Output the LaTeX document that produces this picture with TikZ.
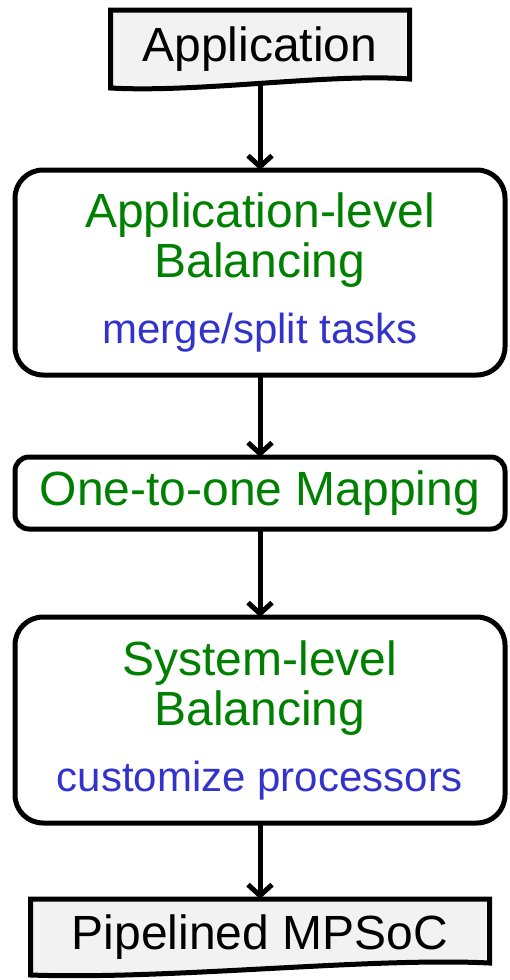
\documentclass[tikz,border=0pt]{standalone}
\usepackage{fontspec}
\setmainfont{Liberation Sans}
\usetikzlibrary{arrows.meta, positioning, backgrounds}

\definecolor{stepgreen}{RGB}{0,128,0}
\definecolor{noteblue}{RGB}{51,51,204}
\definecolor{docgray}{RGB}{242,242,242}

\begin{document}
\begin{tikzpicture} [node distance = 82pt,
		big/.style={font=\fontsize{48}{50}\selectfont},
		stage/.style={draw, line width=5pt, rounded corners=28pt, minimum width=490pt,
			inner sep=0pt, outer sep=0pt, align=center, big, text=stepgreen},
		doc/.style={inner sep=0pt, outer sep=0pt, big},
		docline/.style={draw, line width=5pt, fill=docgray, line join=miter},
		flow/.style={line width=5pt, -{Straight Barb[length=11pt, width=24pt]}},
	]

	\useasboundingbox (0,0) rectangle (510pt,-980pt);

	% Input document
	\node (app) [doc,
		minimum width=299pt,
		minimum height=78pt] at (260pt,-49pt) {Application};
	% Stages
	\node (balapp) [stage,
		minimum height=205pt,
		below = of app] {Application-level\\Balancing\\[16pt]{\color{noteblue}\fontsize{42}{50}\selectfont merge/split tasks}};
	\node (map) [stage,
		rounded corners=14pt,
		minimum height=72pt,
		below = 82pt of balapp] {One-to-one Mapping};
	\node (balsys) [stage,
		minimum height=206pt,
		below = 88pt of map] {System-level\\Balancing\\[16pt]{\color{noteblue}\fontsize{42}{50}\selectfont customize processors}};
	% Output document
	\node (mpsoc) [doc,
		minimum width=459pt,
		minimum height=76pt,
		below = 76pt of balsys] {Pipelined MPSoC};

	% Document outlines
	\begin{scope}[on background layer]
		\path [docline] (app.north west) -- (app.north east)
		-- ([yshift=9pt]app.south east)
		.. controls ([xshift=-80pt, yshift=15pt]app.south east)
		and ([xshift=90pt, yshift=-5pt]app.south west) .. (app.south west)
		-- cycle;
		\path [docline] (mpsoc.north west) -- (mpsoc.north east)
		-- ([yshift=12pt]mpsoc.south east)
		.. controls ([xshift=-120pt, yshift=18pt]mpsoc.south east)
		and ([xshift=140pt, yshift=-5pt]mpsoc.south west) .. (mpsoc.south west)
		-- cycle;
	\end{scope}

	% Arrows
	\draw [flow] ([yshift=5pt]app.south) -- (balapp);
	\draw [flow] (balapp) -- (map);
	\draw [flow] (map) -- (balsys);
	\draw [flow] (balsys) -- (mpsoc);
\end{tikzpicture}
\end{document}
